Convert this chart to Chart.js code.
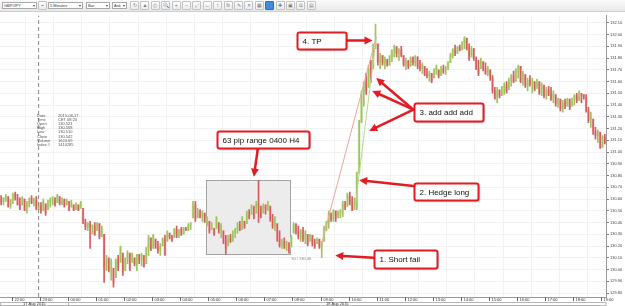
<!DOCTYPE html>
<html lang="en">
<head>
<meta charset="UTF-8" />
<title>GBP/JPY 5 Minutes</title>
<script src="https://cdn.jsdelivr.net/npm/chart.js"></script>
<style>
  * { box-sizing: border-box; }
  body { margin: 0; width: 625px; height: 306px; overflow: hidden; background: #fff; font-family: 'Liberation Sans', Arial, sans-serif; position: relative; }
  #tb { position: absolute; left: 0; top: 0; width: 625px; height: 12px; background: linear-gradient(#fbfbfb, #e8e8e8); border-bottom: 1px solid #cdcdcd; }
  .sel { position: absolute; top: 2px; height: 7px; border: 1px solid #a9a9a9; background: #fff; font-size: 4px; line-height: 5px; padding-left: 1px; color: #333; }
  .sel::after { content: ''; position: absolute; right: 1px; top: 2px; border-left: 1.5px solid transparent; border-right: 1.5px solid transparent; border-top: 2px solid #444; }
  .btn { position: absolute; top: 1px; width: 9px; height: 9px; border: 1px solid #c2c2c2; border-radius: 1px; background: linear-gradient(#fff, #ececec); font-size: 5px; line-height: 7px; text-align: center; color: #777; }
  .btn.on { background: #3d8fe0; border-color: #2a6fb8; color: #e02020; }
  canvas { position: absolute; left: 0; top: 12px; }
</style>
</head>
<body>
<div id="tb"></div>
<canvas id="c" width="625" height="294"></canvas>
<script>
// toolbar
const toolbarSelects = [['GBP/JPY', 2, 35], ['5 Minutes', 48, 35], ['Bar', 86, 24], ['Ask', 112, 15]];
const toolbarButtons = ['↻', '▲', '⎙', '🔍', '+', '−', '⤢', '↔', '↕', 'fx', '✎', '✕', '▦', '↓', '✚', '▣', '⧉', '▤'];
const tb = document.getElementById('tb');
toolbarSelects.forEach(([t, l, w]) => {
  const d = document.createElement('div');
  d.className = 'sel'; d.textContent = t;
  d.style.left = l + 'px'; d.style.width = w + 'px';
  tb.appendChild(d);
});
const ic = document.createElement('div');
ic.className = 'btn'; ic.style.left = '38px'; ic.style.color = '#d33'; ic.textContent = '⌁';
tb.appendChild(ic);
toolbarButtons.forEach((t, k) => {
  const d = document.createElement('div');
  d.className = 'btn' + (k === 13 ? ' on' : '');
  d.style.left = (130 + k * 10.4) + 'px';
  d.textContent = t;
  tb.appendChild(d);
});

// 5 minute bars, GBP/JPY
const hi = [
130.63,130.61,130.64,130.62,130.60,130.65,130.66,130.64,130.61,130.62,
130.60,130.58,130.61,130.63,130.61,130.62,130.57,130.57,130.60,130.56,
130.59,130.61,130.62,130.61,130.64,130.62,130.61,130.60,130.60,130.58,
130.59,130.55,130.57,130.55,130.58,130.52,130.43,130.40,130.41,130.38,
130.40,130.40,130.39,130.37,130.30,130.12,130.10,130.09,130.01,130.09,
130.12,130.20,130.14,130.10,130.16,130.14,130.14,130.10,130.13,130.13,
130.14,130.12,130.19,130.29,130.27,130.30,130.26,130.24,130.22,130.27,
130.29,130.33,130.31,130.29,130.35,130.37,130.34,130.36,130.36,130.36,
130.39,130.40,130.58,130.58,130.52,130.51,130.50,130.48,130.45,130.41,
130.40,130.35,130.45,130.40,130.39,130.33,130.29,130.29,130.30,130.33,
130.35,130.40,130.41,130.45,130.41,130.50,130.51,130.55,130.54,130.58,
130.76,130.54,130.56,130.55,130.58,130.54,130.47,130.45,130.39,130.33,
130.26,130.27,130.24,130.23,130.29,130.40,130.39,130.37,130.34,130.36,
130.33,130.30,130.30,130.29,130.26,130.27,130.26,130.24,130.37,130.41,
130.50,130.48,130.51,130.50,130.50,130.51,130.58,130.58,130.65,130.66,
130.62,130.61,130.83,131.27,131.52,131.60,131.67,131.74,131.78,131.92,
132.09,131.92,131.84,131.82,131.81,131.79,131.82,131.87,131.91,131.90,
131.88,131.90,131.82,131.80,131.78,131.81,131.81,131.82,131.81,131.78,
131.76,131.73,131.71,131.69,131.67,131.71,131.74,131.70,131.73,131.74,
131.73,131.77,131.84,131.88,131.91,131.90,131.91,131.94,131.98,131.97,
131.92,131.90,131.88,131.81,131.78,131.80,131.77,131.76,131.73,131.70,
131.65,131.55,131.55,131.53,131.56,131.59,131.60,131.63,131.66,131.69,
131.71,131.74,131.73,131.69,131.66,131.63,131.65,131.63,131.60,131.62,
131.60,131.59,131.57,131.55,131.56,131.55,131.52,131.49,131.46,131.45,
131.44,131.45,131.46,131.45,131.46,131.49,131.50,131.52,131.50,131.49,
131.49,131.38,131.34,131.28,131.21,131.19,131.17,131.14,131.15
];
const lo = [
130.55,130.55,130.58,130.53,130.52,130.56,130.59,130.55,130.51,130.55,
130.50,130.48,130.53,130.56,130.54,130.51,130.51,130.48,130.50,130.46,
130.51,130.53,130.55,130.54,130.57,130.55,130.55,130.53,130.55,130.50,
130.53,130.50,130.51,130.50,130.52,130.39,130.34,130.33,130.18,130.30,
130.29,130.33,130.26,130.28,129.89,129.99,129.98,129.91,129.85,129.93,
129.99,130.06,129.95,129.99,130.05,129.99,130.06,130.03,129.99,130.05,
130.03,130.02,130.05,130.12,130.16,130.18,130.18,130.14,130.12,130.20,
130.12,130.24,130.26,130.24,130.27,130.27,130.27,130.29,130.30,130.33,
130.33,130.34,130.44,130.41,130.44,130.44,130.41,130.40,130.37,130.31,
130.34,130.29,130.35,130.31,130.27,130.22,130.13,130.20,130.23,130.24,
130.27,130.31,130.33,130.34,130.35,130.39,130.43,130.47,130.43,130.48,
130.40,130.44,130.48,130.47,130.50,130.41,130.35,130.33,130.24,130.19,
130.18,130.18,130.16,130.14,130.19,130.31,130.30,130.26,130.24,130.24,
130.22,130.20,130.24,130.20,130.18,130.22,130.18,130.10,130.24,130.33,
130.35,130.41,130.41,130.41,130.44,130.44,130.45,130.51,130.54,130.55,
130.50,130.51,130.51,130.82,131.25,131.39,131.49,131.55,131.59,131.71,
131.88,131.74,131.71,131.74,131.71,131.73,131.74,131.77,131.81,131.81,
131.78,131.81,131.73,131.70,131.71,131.73,131.74,131.73,131.71,131.69,
131.67,131.65,131.63,131.60,131.59,131.63,131.66,131.63,131.65,131.67,
131.66,131.70,131.76,131.80,131.82,131.84,131.86,131.87,131.88,131.87,
131.78,131.81,131.78,131.70,131.65,131.71,131.69,131.66,131.65,131.61,
131.50,131.45,131.42,131.46,131.48,131.49,131.50,131.53,131.56,131.59,
131.60,131.63,131.59,131.57,131.55,131.52,131.56,131.50,131.52,131.54,
131.49,131.48,131.46,131.45,131.48,131.44,131.42,131.39,131.38,131.35,
131.34,131.37,131.39,131.36,131.39,131.40,131.42,131.44,131.42,131.45,
131.34,131.25,131.21,131.15,131.11,131.08,131.03,131.04,131.07
];
const cl = [
130.58,130.61,130.62,130.54,130.59,130.64,130.61,130.55,130.52,130.61,
130.50,130.56,130.60,130.57,130.59,130.52,130.54,130.50,130.58,130.48,
130.57,130.60,130.61,130.55,130.63,130.56,130.60,130.54,130.59,130.50,
130.57,130.50,130.55,130.51,130.57,130.40,130.36,130.39,130.36,130.37,
130.30,130.39,130.28,130.35,130.01,130.10,129.99,130.06,129.89,130.08,
130.02,130.19,129.98,130.09,130.14,130.01,130.13,130.05,130.12,130.08,
130.13,130.03,130.18,130.27,130.18,130.29,130.19,130.16,130.20,130.26,
130.13,130.31,130.28,130.24,130.34,130.29,130.34,130.30,130.35,130.34,
130.38,130.39,130.55,130.43,130.50,130.45,130.48,130.41,130.44,130.33,
130.38,130.30,130.44,130.33,130.37,130.24,130.18,130.27,130.24,130.31,
130.34,130.38,130.34,130.44,130.37,130.48,130.45,130.54,130.45,130.56,
130.53,130.45,130.55,130.50,130.56,130.43,130.37,130.43,130.26,130.20,
130.24,130.19,130.23,130.16,130.27,130.38,130.32,130.28,130.33,130.26,
130.31,130.22,130.29,130.22,130.19,130.26,130.19,130.23,130.35,130.40,
130.48,130.43,130.50,130.44,130.48,130.50,130.56,130.53,130.63,130.57,
130.51,130.53,130.82,131.25,131.49,131.59,131.52,131.71,131.63,131.91,
131.92,131.77,131.82,131.76,131.80,131.74,131.81,131.86,131.89,131.84,
131.87,131.82,131.74,131.77,131.73,131.80,131.76,131.81,131.73,131.71,
131.74,131.66,131.65,131.67,131.60,131.70,131.72,131.65,131.71,131.69,
131.72,131.76,131.82,131.87,131.84,131.89,131.87,131.93,131.97,131.88,
131.80,131.88,131.80,131.71,131.67,131.78,131.71,131.67,131.71,131.63,
131.52,131.46,131.53,131.48,131.55,131.57,131.52,131.61,131.65,131.60,
131.70,131.73,131.60,131.66,131.56,131.61,131.58,131.60,131.54,131.60,
131.50,131.57,131.48,131.53,131.50,131.45,131.50,131.41,131.45,131.37,
131.42,131.39,131.45,131.38,131.45,131.48,131.44,131.51,131.49,131.46,
131.35,131.27,131.32,131.17,131.14,131.18,131.04,131.13,131.08
];
const firstOpen = 130.60;

// axes
const yTicks = [129.8, 129.9, 130.0, 130.1, 130.2, 130.3, 130.4, 130.5, 130.6, 130.7, 130.8, 130.9,
  131.0, 131.1, 131.2, 131.3, 131.4, 131.5, 131.6, 131.7, 131.8, 131.9, 132.0, 132.1];
const xTickBars = [4.5, 16.5, 28.5, 40.5, 52.5, 64.5, 76.5, 88.5, 100.5, 112.5, 124.5, 136.5,
  148.5, 160.5, 172.5, 184.5, 196.5, 208.5, 220.5, 232.5, 244.5, 256.5];
const xTickLabels = ['22:00', '23:00', '00:00', '01:00', '02:00', '03:00', '04:00', '05:00', '06:00', '07:00', '08:00',
  '09:00', '10:00', '11:00', '12:00', '13:00', '14:00', '15:00', '16:00', '17:00', '18:00', '19:00'];
const dayNames = ['17 Aug 2015', '18 Aug 2015'];
const dayStartBar = 28.5;

// data window (crosshair on bar 16)
const crossBar = 16;
const dwLabels = ['Date', 'Time', 'Open', 'High', 'Low', 'Close', 'Volume', 'Index #'];
const dwValues = ['2015-08-17', 'CET 08:20', '130.521', '130.568', '130.510', '130.542', '1624.69', '1410285'];

// drawn tools
const rangeBars = [87.5, 123.5];
const rangeHiLo = [130.76, 130.13];
const pinkLine = [[137.2, 130.24], [160.3, 131.98]];
const greenLine = [[151.3, 130.54], [160.3, 131.98]];
const noteText = ['4. TP', '3. add add add', '2. Hedge long', '63 pip range 0400 H4', '1. Short fail'];
const noteAt = [[126.4, 131.95], [176.6, 131.34], [176.6, 130.66], [92.1, 131.11], [159.5, 130.09]];
const noteSize = [[49, 17], [69, 18], [64, 17], [92, 17], [63, 18]];
const arrows = [
  [[148.0, 131.95], [158.7, 131.95]],
  [[176.2, 131.36], [160.3, 131.63]],
  [[176.2, 131.36], [158.6, 131.52]],
  [[176.2, 131.36], [157.3, 131.18]],
  [[176.2, 130.71], [153.0, 130.76]],
  [[109.7, 131.03], [108.0, 130.79]],
  [[159.2, 130.10], [142.8, 130.12]]
];
const lowTag = [124.0, 130.09, '30 / 130.46'];

const RED = '#e31b23';
const op = cl.map((c, i) => (i ? cl[i - 1] : firstOpen));
const up = cl.map((c, i) => c >= op[i]);

function arrow(ctx, x1, y1, x2, y2) {
  const a = Math.atan2(y2 - y1, x2 - x1), L = 8, W = 4;
  const bx = x2 - L * Math.cos(a), by = y2 - L * Math.sin(a);
  ctx.beginPath(); ctx.moveTo(x1, y1); ctx.lineTo(bx, by); ctx.stroke();
  ctx.beginPath();
  ctx.moveTo(x2, y2);
  ctx.lineTo(bx + W * Math.sin(a), by - W * Math.cos(a));
  ctx.lineTo(bx - W * Math.sin(a), by + W * Math.cos(a));
  ctx.closePath(); ctx.fill();
}

const deco = {
  id: 'deco',
  beforeDatasetsDraw(chart) {
    const { ctx, scales: { x, y } } = chart;
    const x0 = Math.round(x.getPixelForValue(rangeBars[0])), x1 = Math.round(x.getPixelForValue(rangeBars[1]));
    const y0 = Math.round(y.getPixelForValue(rangeHiLo[0])), y1 = Math.round(y.getPixelForValue(rangeHiLo[1]));
    ctx.save();
    ctx.fillStyle = '#ececec';
    ctx.fillRect(x0, y0, x1 - x0, y1 - y0);
    ctx.strokeStyle = '#a3a3a3'; ctx.lineWidth = 1;
    ctx.strokeRect(x0 + 0.5, y0 + 0.5, x1 - x0, y1 - y0);
    ctx.restore();
  },
  afterDraw(chart) {
    const { ctx, chartArea: area, scales: { x, y } } = chart;
    ctx.save();
    // time labels with separators
    ctx.font = '4px "Liberation Sans", Arial';
    ctx.textBaseline = 'middle'; ctx.textAlign = 'left';
    ctx.strokeStyle = '#666'; ctx.lineWidth = 1;
    xTickBars.forEach((b, k) => {
      const px = Math.round(x.getPixelForValue(b)) + 0.5;
      ctx.beginPath(); ctx.moveTo(px, area.bottom); ctx.lineTo(px, area.bottom + 4); ctx.stroke();
      ctx.fillStyle = '#333';
      ctx.fillText(xTickLabels[k], px + 2, area.bottom + 2.5);
    });
    // data window
    ctx.fillStyle = '#555';
    dwLabels.forEach((t, k) => {
      const yy = 103.7 + k * 4.15;
      ctx.fillText(t, 37, yy);
      ctx.fillText(dwValues[k], 58, yy);
    });
    // small tag under range box
    ctx.fillStyle = '#888';
    ctx.fillText(lowTag[2], x.getPixelForValue(lowTag[0]), y.getPixelForValue(lowTag[1]));
    // date row
    const top = area.bottom + 5, bot = chart.height - 0.5;
    const dx = Math.round(x.getPixelForValue(dayStartBar)) + 0.5;
    ctx.strokeStyle = '#b5b5b5';
    ctx.strokeRect(0.5, top + 0.5, area.right - 0.5, bot - top - 0.5);
    ctx.beginPath(); ctx.moveTo(dx, top); ctx.lineTo(dx, bot); ctx.stroke();
    ctx.fillStyle = '#333'; ctx.textAlign = 'center';
    ctx.fillText(dayNames[0], dx / 2, (top + bot) / 2 + 0.5);
    ctx.fillText(dayNames[1], (dx + area.right) / 2, (top + bot) / 2 + 0.5);
    // arrows
    ctx.strokeStyle = RED; ctx.fillStyle = RED; ctx.lineWidth = 2.5; ctx.lineCap = 'round';
    arrows.forEach(([a, b]) => arrow(ctx, x.getPixelForValue(a[0]), y.getPixelForValue(a[1]),
      x.getPixelForValue(b[0]), y.getPixelForValue(b[1])));
    // note boxes
    ctx.font = '8px "Liberation Sans", Arial';
    ctx.textAlign = 'left';
    noteText.forEach((t, k) => {
      const bx = Math.round(x.getPixelForValue(noteAt[k][0])) + 0.5;
      const cy = y.getPixelForValue(noteAt[k][1]);
      const [w, h] = noteSize[k];
      const by = Math.round(cy - h / 2) + 0.5;
      ctx.save();
      ctx.shadowColor = 'rgba(0,0,0,0.35)'; ctx.shadowOffsetX = 1; ctx.shadowOffsetY = 1; ctx.shadowBlur = 2;
      ctx.fillStyle = '#fff';
      ctx.beginPath(); ctx.roundRect(bx, by, w, h, 2); ctx.fill();
      ctx.restore();
      ctx.strokeStyle = RED; ctx.lineWidth = 2;
      ctx.beginPath(); ctx.roundRect(bx, by, w, h, 2); ctx.stroke();
      ctx.fillStyle = '#111';
      ctx.fillText(t, bx + 5, by + h / 2 + 0.5);
    });
    ctx.restore();
  }
};

const wicks = hi.map((h, i) => ({ x: i, y: [lo[i], h] }));
const bodies = cl.map((c, i) => {
  const o = Math.min(Math.max(op[i], lo[i]), hi[i]);
  return { x: i, y: [Math.min(o, c), Math.max(o, c)] };
});

new Chart(document.getElementById('c'), {
  type: 'bar',
  data: {
    datasets: [
      { type: 'bar', data: bodies, barThickness: 2, grouped: false, order: 3,
        backgroundColor: up.map(u => (u ? '#d8e9bb' : '#f5c6c6')) },
      { type: 'bar', data: wicks, barThickness: 1, grouped: false, order: 2,
        backgroundColor: up.map(u => (u ? '#9dc55f' : '#d65b5e')) },
      { type: 'line', data: pinkLine.map(p => ({ x: p[0], y: p[1] })), borderColor: '#f2a2a2',
        borderWidth: 1, pointRadius: 0, order: 1 },
      { type: 'line', data: greenLine.map(p => ({ x: p[0], y: p[1] })), borderColor: '#b7d78c',
        borderWidth: 1, pointRadius: 0, order: 1 },
      { type: 'line', data: [{ x: crossBar, y: 129.766 }, { x: crossBar, y: 132.163 }], borderColor: '#8a8a8a',
        borderWidth: 1, borderDash: [4, 3], pointRadius: 0, order: 0 }
    ]
  },
  options: {
    responsive: false,
    animation: false,
    layout: { padding: { left: 0, right: 0, top: 0, bottom: 4 } },
    plugins: { legend: { display: false }, tooltip: { enabled: false } },
    scales: {
      x: {
        type: 'linear', min: -0.5, max: 258.5, offset: false,
        afterBuildTicks: s => { s.ticks = xTickBars.map(v => ({ value: v })); },
        ticks: { display: false },
        grid: { color: '#f2f2f2', drawTicks: false },
        border: { color: '#9a9a9a' },
        afterFit: s => { s.height = 5; }
      },
      y: {
        position: 'right', min: 129.766, max: 132.163,
        afterBuildTicks: s => { s.ticks = yTicks.map(v => ({ value: v })); },
        ticks: { callback: v => v.toFixed(2), font: { size: 4 }, color: '#444', padding: 1 },
        grid: { color: '#f2f2f2', tickLength: 3, tickColor: '#777' },
        border: { color: '#9a9a9a' },
        afterFit: s => { s.width = 19; }
      }
    }
  },
  plugins: [deco]
});
</script>
</body>
</html>
